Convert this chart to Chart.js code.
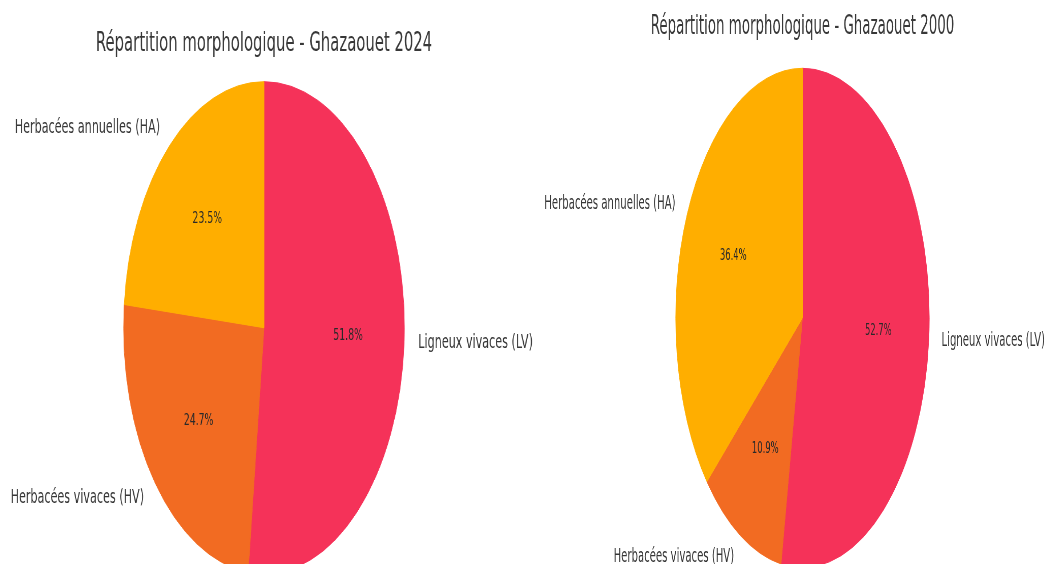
<!DOCTYPE html>
<html>
<head>
<meta charset="utf-8">
<script src="https://cdn.jsdelivr.net/npm/chart.js@4.4.1/dist/chart.umd.min.js"></script>
<style>
  html, body { margin: 0; padding: 0; background: #ffffff; }
  body { width: 1046px; height: 564px; position: relative; overflow: hidden; }
</style>
</head>
<body>
<canvas id="c2024" width="960" height="564" style="position:absolute;left:-10px;top:0;width:548px;height:564px"></canvas>
<canvas id="c2000" width="1053" height="564" style="position:absolute;left:535px;top:0;width:535px;height:564px"></canvas>
<script>
// ---- data ----
const categories = ['Herbacées annuelles (HA)', 'Herbacées vivaces (HV)', 'Ligneux vivaces (LV)'];
const values2024 = [23.5, 24.7, 51.8];
const values2000 = [36.4, 10.9, 52.7];
const title2024 = 'Répartition morphologique - Ghazaouet 2024';
const title2000 = 'Répartition morphologique - Ghazaouet 2000';
const sliceColors = ['#FFAE00', '#F26B22', '#F53259'];

// matplotlib draws counter-clockwise from the top; Chart.js draws clockwise,
// so the order is reversed when building the dataset.
function rev(a) { return a.slice().reverse(); }

const labelPlugin = {
  id: 'mplLabels',
  afterDatasetsDraw(chart) {
    const o = chart.options.plugins.mplLabels;
    const ctx = chart.ctx;
    const meta = chart.getDatasetMeta(0);
    const data = chart.data.datasets[0].data;
    const labels = chart.data.labels;
    const total = data.reduce((a, b) => a + b, 0);
    ctx.save();
    let cx = 0, cy = 0, R = 0;
    meta.data.forEach((arc, i) => {
      const p = arc.getProps(['x', 'y', 'startAngle', 'endAngle', 'outerRadius'], true);
      cx = p.x; cy = p.y; R = p.outerRadius;
      const mid = (p.startAngle + p.endAngle) / 2;
      const c = Math.cos(mid), s = Math.sin(mid);
      // category label at 1.1 R
      ctx.fillStyle = '#383838';
      ctx.font = o.labelSize + 'px "DejaVu Sans"';
      ctx.textBaseline = 'middle';
      ctx.textAlign = c < 0 ? 'right' : 'left';
      ctx.fillText(labels[i], p.x + 1.1 * R * c, p.y + 1.1 * R * s);
      // percentage at 0.6 R
      ctx.fillStyle = '#2a2a2a';
      ctx.font = o.pctSize + 'px "DejaVu Sans"';
      ctx.textAlign = 'center';
      ctx.fillText((data[i] / total * 100).toFixed(1) + '%', p.x + 0.6 * R * c, p.y + 0.6 * R * s);
    });
    // title
    ctx.fillStyle = '#383838';
    ctx.font = o.titleSize + 'px "DejaVu Sans"';
    ctx.textAlign = 'center';
    ctx.textBaseline = 'alphabetic';
    ctx.fillText(o.title, cx, cy - R - o.titleGap);
    ctx.restore();
  }
};

function makePie(id, values, radius, padTop, k, title, titleGap) {
  return new Chart(document.getElementById(id), {
    type: 'pie',
    data: {
      labels: rev(categories),
      datasets: [{
        data: rev(values),
        backgroundColor: rev(sliceColors),
        borderColor: rev(sliceColors),
        borderWidth: 1,
        radius: radius
      }]
    },
    options: {
      responsive: false,
      devicePixelRatio: 1,
      animation: false,
      layout: { padding: { top: padTop, bottom: 0, left: 0, right: 0 } },
      plugins: {
        legend: { display: false },
        title: { display: false },
        tooltip: { enabled: false },
        mplLabels: { title: title, titleSize: 26 * k, labelSize: 19.6 * k, pctSize: 16.3 * k, titleGap: titleGap }
      }
    },
    plugins: [labelPlugin]
  });
}

makePie('c2024', values2024, 246, 91.4, 1.0, title2024, 31);
makePie('c2000', values2000, 249.6, 71.8, 1.015, title2000, 34);
</script>
</body>
</html>
